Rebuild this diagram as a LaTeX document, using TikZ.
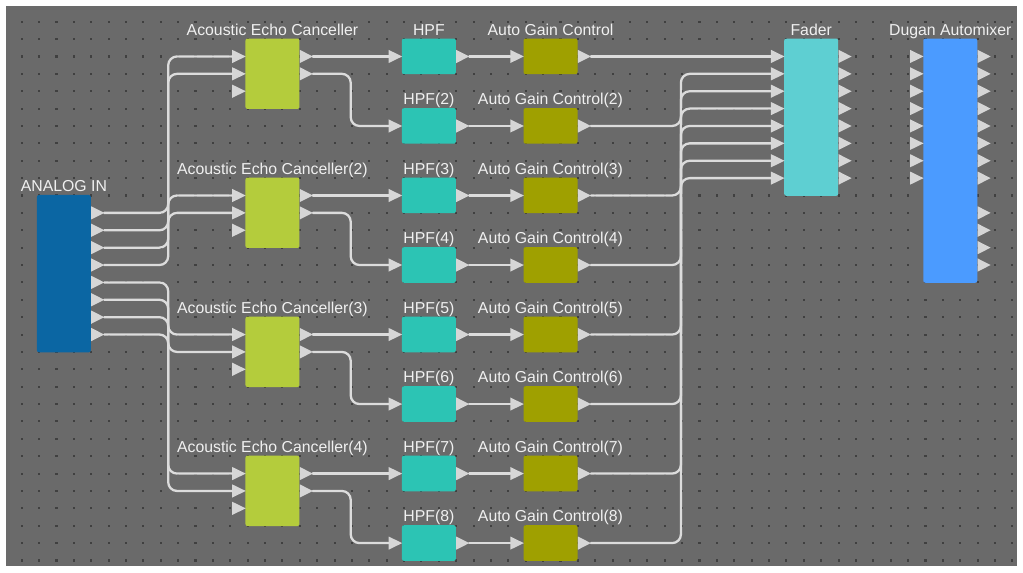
\documentclass[tikz,border=0pt]{standalone}
\usepackage{fontspec}
\setmainfont{Liberation Sans}
\usepackage{tikz}
\usetikzlibrary{calc}
\usepackage{xcolor}
\definecolor{canvas}{HTML}{6A6A6A}
\definecolor{dotc}{HTML}{404040}
\definecolor{anac}{HTML}{0B66A3}
\definecolor{aecc}{HTML}{B4CC3C}
\definecolor{hpfc}{HTML}{2CC4B4}
\definecolor{agcc}{HTML}{9FA000}
\definecolor{fadc}{HTML}{5ECFD2}
\definecolor{dugc}{HTML}{4B9BFF}
\definecolor{portc}{HTML}{D6D6D6}
\definecolor{wirec}{HTML}{DCDCDC}
\definecolor{txtc}{HTML}{F0F0F0}

\begin{document}
\begin{tikzpicture}[x=0.3476cm,y=-0.3476cm,font=\fontsize{9}{10}\selectfont,line cap=round,
  blk/.style={rounded corners=1.2pt,minimum width=1.08cm,inner sep=0,anchor=north east},
  lbl/.style={text=txtc,inner sep=0,anchor=base},
  port/.style={fill=portc},
  wire/.style={draw=wirec,line width=1.3pt,rounded corners=5pt},
  route/.style={to path={-| ($(\tikztostart)!0.5!(\tikztotarget)$) |- (\tikztotarget)}}]
\useasboundingbox (-1.2486,-1.2486) rectangle (57.612,31.663);
\fill[white] (-1.2486,-1.2486) rectangle (57.612,31.663);
\fill[canvas] (-0.903,-0.903) rectangle (57.267,31.318);
\foreach \c in {0,...,57}
  \foreach \r in {0,...,31}
    \fill[dotc] (\c-0.06,\r-0.06) rectangle (\c+0.06,\r+0.06);

% input
\node[blk,fill=anac,minimum height=3.1458cm] (an) at (4,9.95) {};
\node[lbl] (an-lbl) at ([yshift=1.8pt]an.north) {ANALOG IN};
\foreach \k in {1,...,8} {
  \coordinate (an-o\k) at (4.75,10+\k);
  \fill[port] (an-o\k) -- ++(-0.75,-0.38) -- ++(0,0.76) -- cycle;
}

% echo cancellers
\foreach \i/\r in {1/2,2/10,3/18,4/26} {
  \node[blk,fill=aecc,minimum height=1.4078cm] (aec\i) at (16,\r-1.05) {};
  \node[lbl] (aec\i-lbl) at ([yshift=1.8pt]aec\i.north) {Acoustic Echo Canceller\ifnum\i>1 (\i)\fi};
  \foreach \k in {1,2,3} {
    \coordinate (aec\i-i\k) at (12.11,\r+\k-1);
    \fill[port] (aec\i-i\k) -- ++(0,-0.38) -- ++(0.78,0.38) -- ++(-0.78,0.38) -- cycle;
  }
  \foreach \k in {1,2} {
    \coordinate (aec\i-o\k) at (16.75,\r+\k-1);
    \fill[port] (aec\i-o\k) -- ++(-0.75,-0.38) -- ++(0,0.76) -- cycle;
  }
}

% HPF and AGC rows
\foreach \i in {1,...,8} {
  \pgfmathsetmacro\r{2+4*(\i-1)}
  \node[blk,fill=hpfc,minimum height=0.7126cm] (hpf\i) at (25,\r-1.05) {};
  \node[lbl] (hpf\i-lbl) at ([yshift=1.8pt]hpf\i.north) {HPF\ifnum\i>1 (\i)\fi};
  \node[blk,fill=agcc,minimum height=0.7126cm] (agc\i) at (32,\r-1.05) {};
  \node[lbl] (agc\i-lbl) at ([yshift=1.8pt]agc\i.north) {Auto Gain Control\ifnum\i>1 (\i)\fi};
  \coordinate (hpf\i-i) at (21.11,\r);
  \coordinate (hpf\i-o) at (25.75,\r);
  \coordinate (agc\i-i) at (28.11,\r);
  \coordinate (agc\i-o) at (32.75,\r);
  \fill[port] (hpf\i-i) -- ++(0,-0.38) -- ++(0.78,0.38) -- ++(-0.78,0.38) -- cycle;
  \fill[port] (agc\i-i) -- ++(0,-0.38) -- ++(0.78,0.38) -- ++(-0.78,0.38) -- cycle;
  \fill[port] (hpf\i-o) -- ++(-0.75,-0.38) -- ++(0,0.76) -- cycle;
  \fill[port] (agc\i-o) -- ++(-0.75,-0.38) -- ++(0,0.76) -- cycle;
}

% fader and automixer
\node[blk,fill=fadc,minimum height=3.1458cm] (fad) at (47,0.95) {};
\node[lbl] (fad-lbl) at ([yshift=1.8pt]fad.north) {Fader};
\node[blk,fill=dugc,minimum height=4.8838cm] (dug) at (55,0.95) {};
\node[lbl] (dug-lbl) at ([yshift=1.8pt]dug.north) {Dugan Automixer};
\foreach \k in {1,...,8} {
  \coordinate (fad-i\k) at (43.11,1+\k);
  \coordinate (fad-o\k) at (47.75,1+\k);
  \coordinate (dug-i\k) at (51.11,1+\k);
  \fill[port] (fad-i\k) -- ++(0,-0.38) -- ++(0.78,0.38) -- ++(-0.78,0.38) -- cycle;
  \fill[port] (dug-i\k) -- ++(0,-0.38) -- ++(0.78,0.38) -- ++(-0.78,0.38) -- cycle;
  \fill[port] (fad-o\k) -- ++(-0.75,-0.38) -- ++(0,0.76) -- cycle;
}
\foreach \k/\r in {1/2,2/3,3/4,4/5,5/6,6/7,7/8,8/9,9/11,10/12,11/13,12/14} {
  \coordinate (dug-o\k) at (55.75,\r);
  \fill[port] (dug-o\k) -- ++(-0.75,-0.38) -- ++(0,0.76) -- cycle;
}

% wires
\foreach \k/\a/\p in {1/1/1,2/1/2,3/2/1,4/2/2,5/3/1,6/3/2,7/4/1,8/4/2}
  \draw[wire] (an-o\k) to[route] (aec\a-i\p);
\foreach \i in {1,...,4} {
  \pgfmathtruncatemacro\h{2*\i-1}
  \pgfmathtruncatemacro\hh{2*\i}
  \draw[wire] (aec\i-o1) -- (hpf\h-i);
  \draw[wire] (aec\i-o2) to[route] (hpf\hh-i);
}
\foreach \i in {1,...,8}
  \draw[wire] (hpf\i-o) -- (agc\i-i);
\draw[wire] (agc1-o) -- (fad-i1);
\foreach \i in {2,...,8}
  \draw[wire] (agc\i-o) to[route] (fad-i\i);
\end{tikzpicture}
\end{document}
